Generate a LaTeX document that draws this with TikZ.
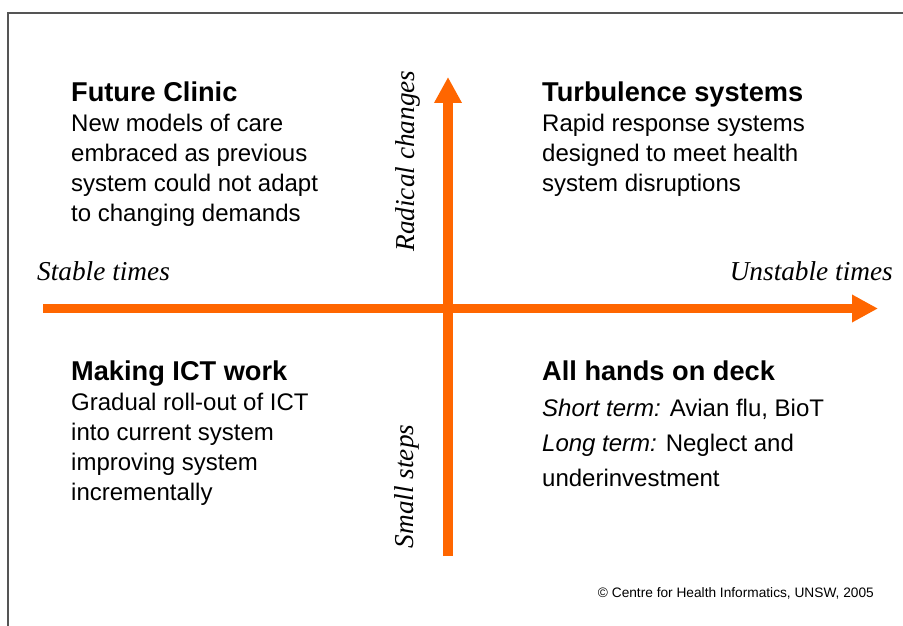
\documentclass[tikz,border=0pt]{standalone}
\usepackage{fontspec}
\setmainfont{Liberation Sans}
\newfontfamily\axisfont{Liberation Serif}
\usetikzlibrary{arrows.meta,positioning}
\definecolor{axisorange}{RGB}{255,102,0}
\definecolor{framegray}{RGB}{85,85,85}

\tikzset{
  axis/.style={axisorange, line width=9.5pt, -{Triangle[length=26pt,width=26pt]}},
  heading/.style={anchor=base west, inner sep=0pt, font=\fontsize{27.2}{30}\selectfont\bfseries},
  % body blocks sit on the baseline of their last line
  body/.style={anchor=base west, inner sep=0pt, align=left, font=\fontsize{24}{30}\selectfont},
  axislabel/.style={inner sep=0pt, font=\fontsize{27.3}{30}\selectfont\axisfont\itshape},
}

\begin{document}
\begin{tikzpicture}[x=1pt,y=-1pt]
  \useasboundingbox (0,0) rectangle (903,626);
  \draw[framegray, line width=1.2pt] (8,626) -- (8,13) -- (903,13);

  % the two axes
  \coordinate (stable) at (43,308.5);
  \coordinate (unstable) at (878,308.5);
  \coordinate (small) at (448,556);
  \coordinate (radical) at (448,77);
  \draw[axis] (stable) -- (unstable);
  \draw[axis] (small) -- (radical);

  \node[axislabel, anchor=base west] (stablelbl) at (37,280) {Stable times};
  \node[axislabel, anchor=base east] (unstablelbl) at (893,280) {Unstable times};
  \node[axislabel, rotate=90, anchor=base] (radicallbl) at (414,161) {Radical changes};
  \node[axislabel, rotate=90, anchor=base] (smalllbl) at (413,486.5) {Small steps};

  % quadrants
  \node[heading] (clinic) at (71,101.5) {Future Clinic};
  \node[body] (clinictext) at (71,221.5) {New models of care\\embraced as previous\\system could not adapt\\to changing demands};

  \node[heading] (turbulence) at (542,101.5) {Turbulence systems};
  \node[body] (turbulencetext) at (542,191.5) {Rapid response systems\\designed to meet health\\system disruptions};

  \node[heading] (ict) at (71,380) {Making ICT work};
  \node[body] (icttext) at (71,500) {Gradual roll-out of ICT\\into current system\\improving system\\incrementally};

  \node[heading] (deck) at (542,380.5) {All hands on deck};
  \node[body, font=\fontsize{24}{35}\selectfont] (decktext) at (542,486.5) {\textit{Short term:} Avian flu, BioT\\\textit{Long term:} Neglect and\\underinvestment};

  \node[anchor=base east, inner sep=0pt, font=\fontsize{13.7}{16}\selectfont] (credit) at (874,597) {\textcopyright{} Centre for Health Informatics, UNSW, 2005};
\end{tikzpicture}
\end{document}
